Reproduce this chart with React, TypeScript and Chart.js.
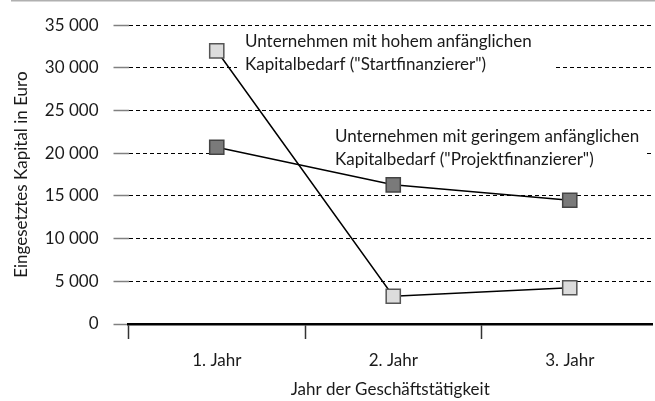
import React, { useEffect, useRef } from 'react';
import { Chart, registerables } from 'chart.js';

Chart.register(...registerables);

const categories = ['1. Jahr', '2. Jahr', '3. Jahr'];
const startfinanzierer = [32000, 3250, 4250];
const projektfinanzierer = [20700, 16300, 14500];
const yMin = 0;
const yMax = 35000;
const yStep = 5000;
const labelStart = ['Unternehmen mit hohem anfänglichen', 'Kapitalbedarf ("Startfinanzierer")'];
const labelProjekt = ['Unternehmen mit geringem anfänglichen', 'Kapitalbedarf ("Projektfinanzierer")'];
const xTitle = 'Jahr der Geschäftstätigkeit';
const yTitle = 'Eingesetztes Kapital in Euro';

const FONT = 'Lato';
const TEXT = '#1a1a1a';

const fmt = (v: number) => String(v).replace(/\B(?=(\d{3})+(?!\d))/g, ' ');

const annotationPlugin = {
  id: 'annot',
  beforeDatasetsDraw(chart: any) {
    const ctx = chart.ctx;
    ctx.save();
    ctx.fillStyle = '#ffffff';
    ctx.fillRect(237, 30, 316, 45);
    ctx.fillRect(222, 122, 424, 50);
    ctx.fillStyle = TEXT;
    ctx.font = `17px ${FONT}`;
    ctx.textBaseline = 'alphabetic';
    ctx.textAlign = 'left';
    labelStart.forEach((t, i) => ctx.fillText(t, 245, 47 + i * 23));
    labelProjekt.forEach((t, i) => ctx.fillText(t, 335, 142 + i * 23));
    ctx.restore();
  },
  afterDraw(chart: any) {
    const ctx = chart.ctx;
    ctx.save();
    ctx.fillStyle = '#b0b0b0';
    ctx.fillRect(11, 0, 644, 1.5);
    ctx.restore();
  },
};

export default function App() {
  const ref = useRef<HTMLCanvasElement | null>(null);
  useEffect(() => {
    if (!ref.current) return;
    const toPoints = (arr: number[]) => arr.map((y, i) => ({ x: i + 1, y }));
    const chart = new Chart(ref.current, {
      type: 'line',
      data: {
        datasets: [
          {
            label: 'Startfinanzierer',
            data: toPoints(startfinanzierer),
            borderColor: '#000',
            borderWidth: 1.5,
            pointStyle: 'rect',
            pointRadius: 10,
            pointBackgroundColor: '#dcdcdc',
            pointBorderColor: '#555',
            pointBorderWidth: 1.5,
            tension: 0,
          },
          {
            label: 'Projektfinanzierer',
            data: toPoints(projektfinanzierer),
            borderColor: '#000',
            borderWidth: 1.5,
            pointStyle: 'rect',
            pointRadius: 10,
            pointBackgroundColor: '#7a7a7a',
            pointBorderColor: '#444',
            pointBorderWidth: 1.5,
            tension: 0,
          },
        ],
      },
      options: {
        animation: false,
        responsive: true,
        maintainAspectRatio: false,
        layout: { autoPadding: false, padding: { top: 21, right: 3, left: 0, bottom: 0 } },
        plugins: { legend: { display: false }, tooltip: { enabled: false } },
        scales: {
          x: {
            type: 'linear',
            min: 0.5,
            max: 3.466,
            afterBuildTicks: (scale: any) => {
              const t: any[] = [];
              for (let i = 1; i <= categories.length * 2; i++) t.push({ value: i / 2 });
              scale.ticks = t.filter((k) => k.value <= categories.length);
            },
            afterFit: (scale: any) => {
              scale.height = 77;
              scale.paddingLeft = 0;
              scale.paddingRight = 0;
            },
            ticks: {
              autoSkip: false,
              maxRotation: 0,
              padding: 11,
              color: TEXT,
              font: { family: FONT, size: 17 },
              callback: (v: any) => (Number.isInteger(v) ? categories[v - 1] : ''),
            },
            grid: {
              drawOnChartArea: false,
              tickLength: 15,
              tickWidth: 1.5,
              tickColor: (c: any) => (c.tick && Number.isInteger(c.tick.value) ? 'rgba(0,0,0,0)' : '#333'),
            },
            border: { display: true, color: '#000', width: 2.5 },
            title: {
              display: true,
              text: xTitle,
              color: TEXT,
              font: { family: FONT, size: 17 },
              padding: { top: 0, bottom: 1 },
            },
          },
          y: {
            min: yMin,
            max: yMax,
            afterFit: (scale: any) => {
              scale.width = 128.5;
            },
            ticks: {
              stepSize: yStep,
              padding: 15,
              color: TEXT,
              font: { family: FONT, size: 17 },
              callback: (v: any) => fmt(v),
            },
            grid: {
              color: '#000',
              lineWidth: 1,
              tickLength: 15,
              tickColor: '#808080',
              tickWidth: 1.5,
              tickBorderDash: [],
            } as any,
            border: { display: false, dash: [4, 3] },
            title: {
              display: true,
              text: yTitle,
              color: TEXT,
              font: { family: FONT, size: 17 },
              padding: { top: 11, bottom: 0 },
            },
          },
        },
      },
      plugins: [annotationPlugin],
    } as any);
    return () => chart.destroy();
  }, []);
  return (
    <div style={{ position: 'fixed', left: 0, top: 0, width: 655, height: 401, background: '#fff' }}>
      <canvas ref={ref} />
    </div>
  );
}
